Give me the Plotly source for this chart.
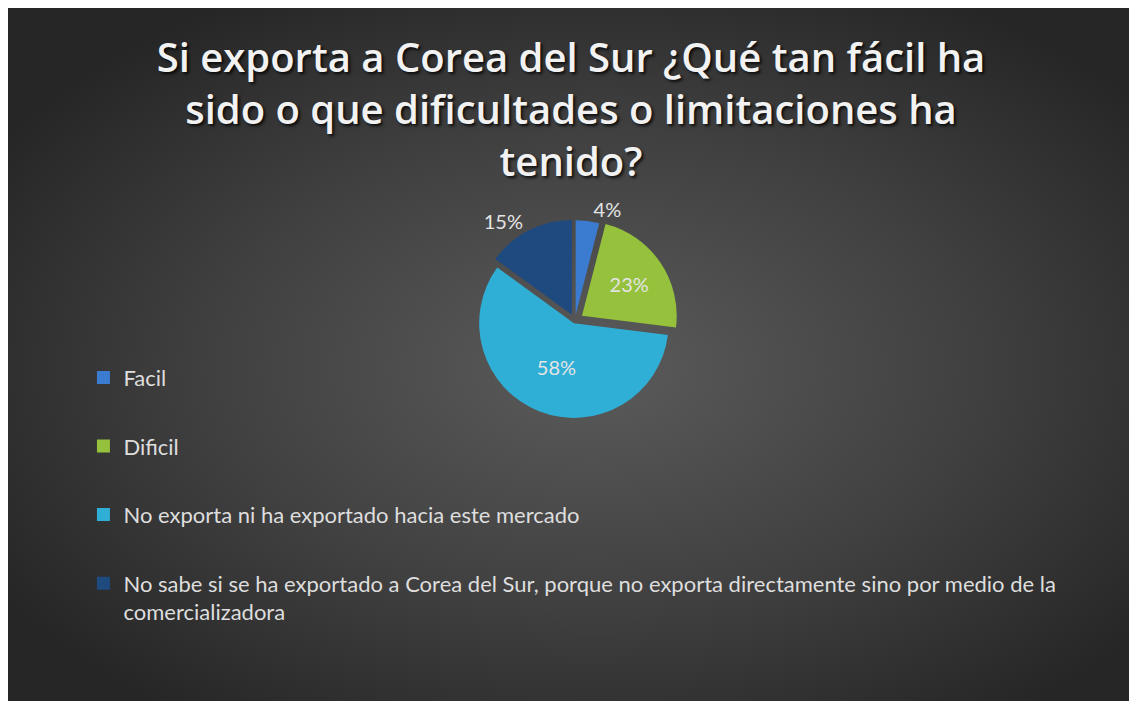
import base64
import plotly.graph_objects as go

categories = [
    "Facil",
    "Dificil",
    "No exporta ni ha exportado hacia este mercado",
    "No sabe si se ha exportado a Corea del Sur, porque no exporta directamente sino por medio de la<br>comercializadora",
]
values = [4, 23, 58, 15]
colors = ["#3b7bd0", "#95c13c", "#30afd6", "#1f4a80"]
pulls = [0.06, 0.09, 0.03, 0.07]
text_positions = ["outside", "inside", "inside", "outside"]

title_text = ("Si exporta a Corea del Sur ¿Qué tan fácil ha<br>"
              "sido o que dificultades o limitaciones ha<br>tenido?")

W, H = 1126, 693

svg = f'''<svg xmlns="http://www.w3.org/2000/svg" width="{W}" height="{H}" viewBox="0 0 {W} {H}" preserveAspectRatio="none">
<defs><radialGradient id="g" cx="0.52" cy="0.52" r="0.62">
<stop offset="0" stop-color="#5b5b5b"/><stop offset="0.55" stop-color="#404040"/><stop offset="1" stop-color="#262626"/>
</radialGradient></defs><rect width="100%" height="100%" fill="url(#g)"/></svg>'''
bg_uri = "data:image/svg+xml;base64," + base64.b64encode(svg.encode()).decode()

fig = go.Figure()
fig.add_trace(go.Pie(
    labels=categories,
    values=values,
    sort=False,
    direction="clockwise",
    rotation=0,
    pull=pulls,
    marker=dict(colors=colors, line=dict(width=0)),
    texttemplate="%{percent:.0%}",
    textposition=text_positions,
    textfont=dict(family="Lato", size=20, color="#e4e4e4"),
    insidetextfont=dict(family="Lato", size=20, color="#e4e4e4"),
    outsidetextfont=dict(family="Lato", size=20, color="#e4e4e4"),
    showlegend=False,
    domain=dict(x=[0.39, 0.617], y=[0.40, 0.698]),
    hovertemplate="%{label}: %{percent}<extra></extra>",
))

for i, (cat, col) in enumerate(zip(categories, colors)):
    fig.add_trace(go.Scatter(
        x=[None], y=[None], mode="markers", name=cat,
        legendgroup=f"g{i}",
        marker=dict(symbol="square", size=13, color=col),
        showlegend=True, hoverinfo="skip",
    ))

fig.update_layout(
    width=W, height=H,
    margin=dict(l=0, r=0, t=0, b=0, pad=0),
    paper_bgcolor="#2b2b2b",
    plot_bgcolor="rgba(0,0,0,0)",
    images=[dict(source=bg_uri, xref="paper", yref="paper", x=0, y=1,
                 sizex=1, sizey=1, xanchor="left", yanchor="top",
                 sizing="stretch", layer="below")],
    title=dict(text=title_text, x=0.5, xanchor="center", y=0.907, yanchor="top",
               font=dict(family="Open Sans", size=40, color="#f2f2f2", weight=600,
                         shadow="2px 2px 3px rgba(0,0,0,0.8)")),
    xaxis=dict(visible=False), yaxis=dict(visible=False),
    legend=dict(x=0.067, xanchor="left", y=0.497, yanchor="top",
                traceorder="grouped", tracegroupgap=37, valign="top",
                font=dict(family="Lato", size=22, color="#dedede"),
                bgcolor="rgba(0,0,0,0)", itemsizing="trace"),
)

fig.write_html("out.html")
